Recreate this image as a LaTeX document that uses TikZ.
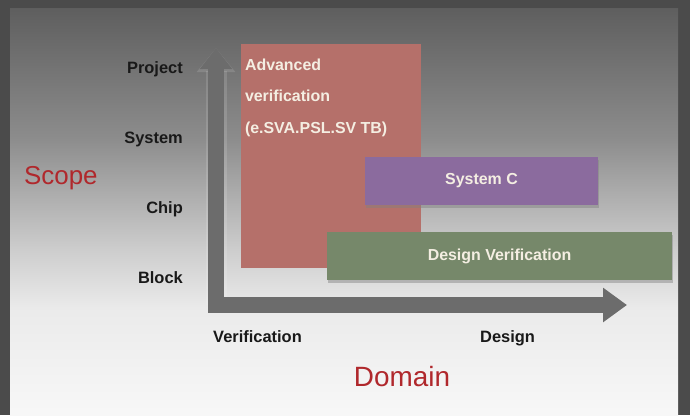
\documentclass[tikz,border=0pt]{standalone}
\usepackage{fontspec}
\setmainfont{Liberation Sans}
\usetikzlibrary{arrows.meta,shadows}

\definecolor{framegray}{HTML}{4B4B4B}
\definecolor{axisgray}{HTML}{6C6C6C}
\definecolor{advred}{HTML}{B5706A}
\definecolor{syspurple}{HTML}{8B6B9E}
\definecolor{dvgreen}{HTML}{76886A}
\definecolor{titlered}{HTML}{B0282C}
\definecolor{boxtext}{HTML}{F4EEE2}

\pgfdeclareverticalshading{panelfade}{100bp}{%
  color(0bp)=(white!97!black); color(25bp)=(white!97!black);
  color(38bp)=(white!92!black); color(45bp)=(white!81!black);
  color(59bp)=(white!55!black); color(75bp)=(white!37!black);
  color(100bp)=(white!37!black)}

\tikzset{
    levellabel/.style={font=\fontsize{16.5}{20}\selectfont\bfseries,text=black!90,inner sep=0pt,anchor=base east},
    domainlabel/.style={levellabel,anchor=base west},
    axistitle/.style={font=\fontsize{26}{30}\selectfont,text=titlered,inner sep=0pt},
    area/.style={rectangle,inner sep=0pt,outer sep=0pt,font=\fontsize{16}{20}\selectfont\bfseries,text=boxtext},
    raised/.style={area,drop shadow={shadow xshift=0.5bp,shadow yshift=-2.5bp,opacity=0.45}},
    axisarrow/.style={line width=16bp,draw=axisgray,line join=miter,
        {Triangle[length=21bp,width=31bp]}-{Triangle[length=24bp,width=33bp]}},
    axishalo/.style={line width=21bp,draw=white,opacity=0.13,-{Triangle[length=24bp,width=37bp]}},
}

\begin{document}
\begin{tikzpicture}[x=1bp,y=-1bp]
    \useasboundingbox (0,0) rectangle (690,415);
    \fill[framegray] (0,0) rectangle (690,415);
    \shade[shading=panelfade] (10,8) rectangle (678,415);

    % axes
    \coordinate (corner) at (216,305);
    \coordinate (ytip) at (216,48);
    \coordinate (xtip) at (627,305);
    \draw[axishalo] (corner) -- (ytip);
    \draw[axisarrow] (ytip) -- (corner) -- (xtip);

    % coverage areas
    \node[area,fill=advred,minimum width=180bp,minimum height=224bp] (adv) at (331,156) {};
    \node[area,anchor=north west,align=left,font=\fontsize{16}{31.5}\selectfont\bfseries] (advtext) at (245,59)
        {Advanced\\verification\\(e.SVA.PSL.SV TB)};
    \node[raised,fill=syspurple,minimum width=233bp,minimum height=48bp] (sysc) at (481.5,181) {System C};
    \node[raised,fill=dvgreen,minimum width=345bp,minimum height=48bp] (dver) at (499.5,256) {Design Verification};

    % scope levels
    \node[levellabel] (project) at (183,73) {Project};
    \node[levellabel] (system) at (183,143) {System};
    \node[levellabel] (chip) at (183,213) {Chip};
    \node[levellabel] (block) at (183,283) {Block};
    \node[axistitle,anchor=base west] (scope) at (24,184) {Scope};

    % domains
    \node[domainlabel] (verif) at (213,342) {Verification};
    \node[domainlabel] (design) at (480,342) {Design};
    \node[axistitle,anchor=base,font=\fontsize{28}{32}\selectfont] (domain) at (402,386) {Domain};
\end{tikzpicture}
\end{document}
